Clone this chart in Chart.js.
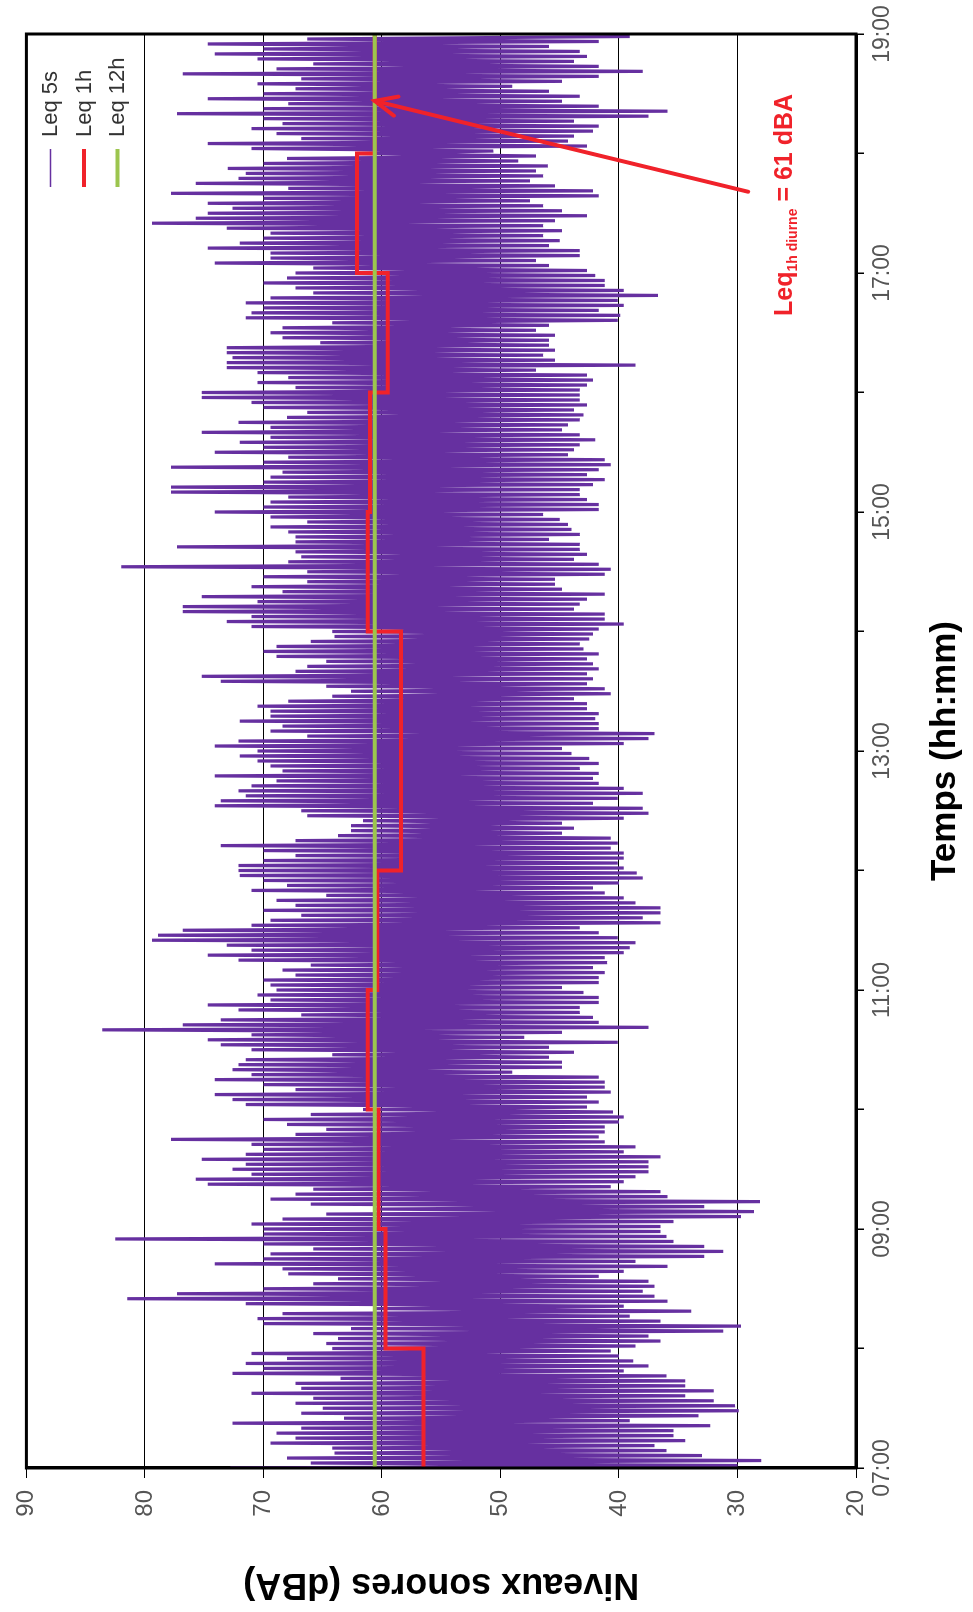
<!DOCTYPE html>
<html>
<head>
<meta charset="utf-8">
<title>Niveaux sonores</title>
<script src="https://cdn.jsdelivr.net/npm/chart.js@4.4.1/dist/chart.umd.min.js"></script>
<style>
  html, body { margin: 0; padding: 0; background: #fff; overflow: hidden; }
  /* the chart is drawn landscape, then turned a quarter turn to the left */
  #wrap {
    position: absolute; left: 0; top: 0;
    width: 1612px; height: 973px;
    transform-origin: 0 0;
    transform: translateY(1612px) rotate(-90deg);
  }
</style>
</head>
<body>
<div id="wrap"><canvas id="noiseChart" width="1612" height="973"></canvas></div>
<script>
// ---- data ----
// Leq 5s envelope, one pair (loudest, quietest) every 2.5 min, 24 per hour
const leq5sHigh = [
  72.8, 66.0, 68.0, 64.0, 64.2, 69.4, 67.3, 68.9, 66.8, 72.6, 63.2, 66.8, 65.0, 67.3, 65.8, 71.0, 66.8, 67.3, 63.5, 72.6, 70.0, 71.5, 68.0, 71.0, // 07h
  64.2, 64.7, 63.7, 65.8, 62.6, 70.0, 70.5, 68.4, 60.5, 71.5, 81.5, 77.3, 70.0, 65.8, 63.7, 67.9, 68.4, 74.1, 70.0, 69.4, 65.8, 70.0, 82.5, 70.0, // 08h
  70.0, 71.0, 68.4, 64.7, 60.5, 66.0, 69.4, 67.3, 65.8, 74.7, 75.7, 71.0, 72.6, 71.5, 75.2, 71.5, 70.0, 71.0, 77.8, 67.3, 64.7, 68.0, 70.0, 66.0, // 09h
  61.6, 71.5, 72.6, 74.1, 67.3, 70.0, 74.1, 71.0, 72.6, 72.1, 71.5, 64.2, 71.0, 73.6, 74.7, 71.0, 83.6, 76.8, 73.6, 66.8, 72.1, 74.7, 69.4, 70.5, // 10h
  68.9, 69.4, 70.0, 67.3, 68.4, 66.0, 72.1, 74.7, 71.0, 73.1, 79.4, 78.9, 76.8, 71.0, 69.4, 66.8, 70.0, 67.3, 68.9, 64.7, 71.0, 68.0, 70.0, 72.0, // 11h
  72.1, 72.1, 70.0, 67.3, 70.0, 73.6, 67.3, 63.7, 62.6, 62.6, 61.6, 66.3, 66.8, 74.1, 73.6, 71.5, 72.1, 71.0, 68.9, 74.1, 68.4, 69.4, 70.5, 72.0, // 12h
  70.5, 74.1, 72.1, 66.3, 69.4, 68.4, 72.0, 69.4, 69.4, 70.5, 67.9, 64.2, 62.6, 64.7, 73.6, 75.2, 67.3, 66.3, 64.7, 68.9, 70.0, 68.9, 66.0, 64.0, // 13h
  64.2, 71.0, 73.1, 71.0, 76.8, 76.8, 70.5, 75.2, 68.4, 71.0, 66.3, 70.0, 66.3, 82.0, 67.9, 66.8, 67.3, 77.3, 67.3, 67.3, 67.9, 69.4, 66.3, 69.4, // 14h
  74.1, 70.0, 69.4, 67.9, 77.8, 77.8, 70.0, 69.4, 68.4, 77.8, 70.0, 67.9, 74.1, 70.0, 72.0, 69.4, 75.2, 69.4, 72.1, 68.0, 66.3, 70.0, 71.0, 75.2, // 15h
  75.2, 67.3, 70.5, 67.9, 70.5, 73.1, 73.1, 72.6, 73.1, 73.1, 65.2, 68.4, 69.4, 68.4, 64.2, 71.5, 71.0, 70.0, 71.5, 69.4, 65.8, 67.3, 70.0, 68.0, // 16h
  67.3, 65.8, 74.1, 69.4, 69.4, 74.7, 72.0, 70.0, 69.4, 73.1, 79.4, 75.7, 74.7, 72.6, 74.7, 70.0, 77.8, 67.9, 75.7, 72.1, 71.5, 73.0, 70.0, 68.0, // 17h
  62.1, 71.0, 74.7, 66.8, 68.9, 71.0, 68.4, 70.0, 77.3, 70.0, 67.9, 74.7, 70.0, 67.3, 70.5, 66.8, 76.8, 68.9, 65.8, 70.5, 74.1, 70.0, 74.7, 66.3  // 18h
];
const leq5sLow = [
  30.0, 28.0, 33.0, 36.0, 37.0, 34.4, 35.4, 35.4, 32.3, 39.1, 33.3, 29.9, 30.2, 32.0, 34.4, 32.0, 34.4, 34.4, 36.0, 39.6, 37.5, 38.8, 40.0, 40.7, // 07h
  38.6, 36.5, 37.5, 31.2, 29.7, 36.5, 39.1, 33.9, 39.6, 35.9, 37.0, 38.0, 37.0, 37.5, 41.7, 39.6, 35.9, 38.6, 32.8, 31.2, 32.8, 35.4, 36.0, 36.5, // 08h
  36.5, 35.4, 29.7, 28.6, 32.8, 28.1, 35.9, 36.5, 40.7, 39.6, 38.6, 37.5, 37.5, 37.5, 36.5, 39.6, 38.6, 41.2, 41.7, 41.2, 41.2, 40.0, 39.6, 40.5, // 09h
  42.7, 41.7, 42.7, 40.7, 41.2, 41.2, 41.7, 49.0, 44.8, 44.8, 45.9, 43.8, 45.9, 40.1, 48.0, 44.8, 37.5, 41.7, 42.2, 43.3, 43.3, 41.7, 41.7, 43.0, // 10h
  44.8, 41.7, 41.7, 41.2, 42.2, 41.0, 41.2, 39.6, 39.1, 38.6, 40.1, 41.7, 43.3, 36.5, 38.0, 36.5, 36.5, 38.6, 39.6, 41.2, 42.2, 40.0, 38.0, 38.5, // 11h
  39.6, 40.1, 39.6, 39.6, 40.7, 40.1, 40.7, 44.8, 43.8, 44.8, 39.6, 37.5, 38.0, 42.2, 40.1, 38.0, 39.6, 41.7, 42.2, 41.7, 43.3, 41.7, 42.5, 44.0, // 12h
  44.8, 39.6, 37.5, 37.0, 41.7, 41.7, 42.0, 41.7, 42.7, 42.7, 43.8, 40.7, 41.2, 42.7, 42.2, 42.7, 41.7, 42.2, 42.7, 41.7, 43.0, 43.3, 42.5, 42.2, // 13h
  41.7, 39.6, 41.2, 41.2, 43.8, 43.3, 42.7, 41.2, 44.8, 45.4, 45.4, 41.2, 40.7, 41.7, 43.8, 42.7, 43.3, 43.3, 45.9, 43.3, 44.0, 44.3, 45.0, 46.4, // 14h
  41.7, 41.7, 42.7, 43.3, 43.3, 42.2, 41.2, 42.7, 41.7, 40.7, 41.2, 44.3, 43.8, 43.3, 42.0, 43.3, 44.8, 44.3, 43.3, 43.0, 43.8, 42.7, 43.3, 43.3, // 15h
  43.3, 42.7, 42.2, 42.7, 47.0, 38.6, 45.4, 46.4, 45.4, 45.9, 45.9, 45.4, 47.0, 45.9, 40.1, 39.9, 41.7, 39.6, 40.1, 36.7, 39.6, 41.2, 41.2, 42.0, // 16h
  42.7, 45.9, 47.0, 43.3, 43.3, 45.9, 45.0, 46.4, 44.8, 46.4, 45.4, 42.7, 44.8, 46.4, 47.5, 41.7, 42.2, 45.4, 47.5, 46.4, 47.0, 46.0, 48.5, 47.0, // 17h
  50.6, 42.7, 44.3, 43.8, 42.2, 41.7, 43.8, 37.5, 35.9, 41.7, 44.8, 43.3, 45.9, 49.0, 44.8, 41.7, 38.0, 41.7, 43.8, 42.7, 43.3, 45.9, 41.7, 39.1  // 18h
];
const binMinutes = 2.5;

// Leq 1h, one value per hour starting 07:00
const hourStarts = [7, 8, 9, 10, 11, 12, 13, 14, 15, 16, 17, 18, 19];
const leq1h = [56.5, 59.7, 60.3, 61.2, 60.4, 58.4, 58.4, 61.2, 61.0, 59.5, 62.1, 60.6];

// Leq 12h over the whole day
const leq12h = 60.6;
const dayStart = 7;
const dayEnd = 19;

const timeTicks = ["07:00", "09:00", "11:00", "13:00", "15:00", "17:00", "19:00"];
const levelTicks = [20, 30, 40, 50, 60, 70, 80, 90];

// callout: "Leq1h diurne = 61 dBA" with its arrow
const calloutText = ["Leq", "1h diurne", " = 61 dBA"];
const calloutAt = { x: 16.64, y: 25.4 };
const arrowFrom = { x: 17.68, y: 29.1 };
const arrowTo = { x: 18.44, y: 60.6 };

// ---- build the datasets ----
const leq5sPoints = [];
leq5sHigh.forEach((hi, i) => {
  const t = dayStart + (i * binMinutes) / 60;
  leq5sPoints.push({ x: t, y: hi });
  leq5sPoints.push({ x: t + binMinutes / 120, y: leq5sLow[i] });
});

const leq1hPoints = hourStarts.map((h, i) => ({
  x: h,
  y: leq1h[Math.min(i, leq1h.length - 1)],
}));

const leq12hPoints = [
  { x: dayStart, y: leq12h },
  { x: dayEnd, y: leq12h },
];

const FONT = '"Liberation Sans", Arial, Helvetica, sans-serif';
const PURPLE = "#6630a0";
const RED = "#f0222a";
const GREEN = "#9cc54e";

// frame round the plot
const framePlugin = {
  id: "frame",
  afterDraw(chart) {
    const { ctx, chartArea } = chart;
    ctx.save();
    ctx.strokeStyle = "#000";
    ctx.lineWidth = 3;
    ctx.strokeRect(chartArea.left, chartArea.top, chartArea.right - chartArea.left, chartArea.bottom - chartArea.top);
    ctx.restore();
  },
};

// small legend stacked in the corner of the plot
const legendPlugin = {
  id: "cornerLegend",
  afterDraw(chart) {
    const { ctx, chartArea } = chart;
    chart.data.datasets.forEach((ds, i) => {
      const y = chartArea.top + 24 + i * 33.5;
      const x0 = chartArea.right - 153;
      ctx.save();
      ctx.strokeStyle = ds.borderColor;
      ctx.lineWidth = ds.legendWidth;
      ctx.beginPath();
      ctx.moveTo(x0, y);
      ctx.lineTo(x0 + 38, y);
      ctx.stroke();
      ctx.fillStyle = "#333";
      ctx.font = "22px " + FONT;
      ctx.textBaseline = "middle";
      ctx.fillText(ds.label, x0 + 50, y + 1);
      ctx.restore();
    });
  },
};

// red callout text and arrow
const calloutPlugin = {
  id: "callout",
  afterDraw(chart) {
    const { ctx } = chart;
    const xs = chart.scales.x;
    const ys = chart.scales.y;
    ctx.save();
    ctx.fillStyle = RED;
    ctx.strokeStyle = RED;
    ctx.textBaseline = "alphabetic";
    let px = xs.getPixelForValue(calloutAt.x);
    const py = ys.getPixelForValue(calloutAt.y);
    ctx.font = "bold 25px " + FONT;
    ctx.fillText(calloutText[0], px, py);
    px += ctx.measureText(calloutText[0]).width;
    ctx.font = "bold 14px " + FONT;
    ctx.fillText(calloutText[1], px, py + 5);
    px += ctx.measureText(calloutText[1]).width;
    ctx.font = "bold 25px " + FONT;
    ctx.fillText(calloutText[2], px, py);

    const x1 = xs.getPixelForValue(arrowFrom.x);
    const y1 = ys.getPixelForValue(arrowFrom.y);
    const x2 = xs.getPixelForValue(arrowTo.x);
    const y2 = ys.getPixelForValue(arrowTo.y);
    const ang = Math.atan2(y2 - y1, x2 - x1);
    ctx.lineWidth = 4;
    ctx.lineCap = "round";
    ctx.beginPath();
    ctx.moveTo(x1, y1);
    ctx.lineTo(x2, y2);
    ctx.stroke();
    const head = 24;
    ctx.beginPath();
    ctx.moveTo(x2 - head * Math.cos(ang - 0.42), y2 - head * Math.sin(ang - 0.42));
    ctx.lineTo(x2, y2);
    ctx.lineTo(x2 - head * Math.cos(ang + 0.42), y2 - head * Math.sin(ang + 0.42));
    ctx.stroke();
    ctx.restore();
  },
};

const ctx = document.getElementById("noiseChart").getContext("2d");

new Chart(ctx, {
  type: "line",
  data: {
    datasets: [
      {
        label: "Leq 5s",
        data: leq5sPoints,
        borderColor: PURPLE,
        borderWidth: 3.2,
        legendWidth: 1.5,
        pointRadius: 0,
        tension: 0,
        order: 3,
      },
      {
        label: "Leq 1h",
        data: leq1hPoints,
        borderColor: RED,
        borderWidth: 4,
        legendWidth: 4,
        pointRadius: 0,
        stepped: "before",
        order: 2,
      },
      {
        label: "Leq 12h",
        data: leq12hPoints,
        borderColor: GREEN,
        borderWidth: 4,
        legendWidth: 4,
        pointRadius: 0,
        order: 1,
      },
    ],
  },
  options: {
    responsive: false,
    animation: false,
    devicePixelRatio: 1,
    events: [],
    layout: { padding: { top: 23, right: 34, left: 0, bottom: 0 } },
    plugins: {
      legend: { display: false },
      tooltip: { enabled: false },
    },
    scales: {
      x: {
        type: "linear",
        min: dayStart,
        max: dayEnd,
        afterFit: (scale) => { scale.height = 117; },
        ticks: {
          stepSize: 1,
          autoSkip: false,
          maxRotation: 0,
          padding: 5,
          color: "#555",
          font: { family: FONT, size: 23 },
          callback: (v) => (Number.isInteger(v) && (v - dayStart) % 2 === 0 ? timeTicks[(v - dayStart) / 2] : ""),
        },
        grid: { drawOnChartArea: false, drawTicks: true, tickLength: 8, color: "#000", lineWidth: 1.5 },
        border: { display: true, color: "#000", width: 3 },
        title: {
          display: true,
          text: "Temps (hh:mm)",
          color: "#000",
          font: { family: FONT, size: 35, weight: "bold" },
          padding: { top: 4, bottom: 7 },
        },
      },
      y: {
        min: levelTicks[0],
        max: levelTicks[levelTicks.length - 1],
        z: 1, // grid lines show through the purple band, as in the original
        afterFit: (scale) => { scale.width = 144; },
        afterBuildTicks: (scale) => { scale.ticks = levelTicks.map((v) => ({ value: v })); },
        ticks: {
          padding: 12,
          color: "#555",
          font: { family: FONT, size: 24 },
        },
        grid: { color: "#000", lineWidth: 1, drawTicks: true, tickLength: 10 },
        border: { display: true, color: "#000", width: 3 },
        title: {
          display: true,
          text: "Niveaux sonores (dBA)",
          color: "#000",
          font: { family: FONT, size: 36, weight: "bold" },
          padding: { top: 6, bottom: 0 },
        },
      },
    },
  },
  plugins: [framePlugin, legendPlugin, calloutPlugin],
});
</script>
</body>
</html>
